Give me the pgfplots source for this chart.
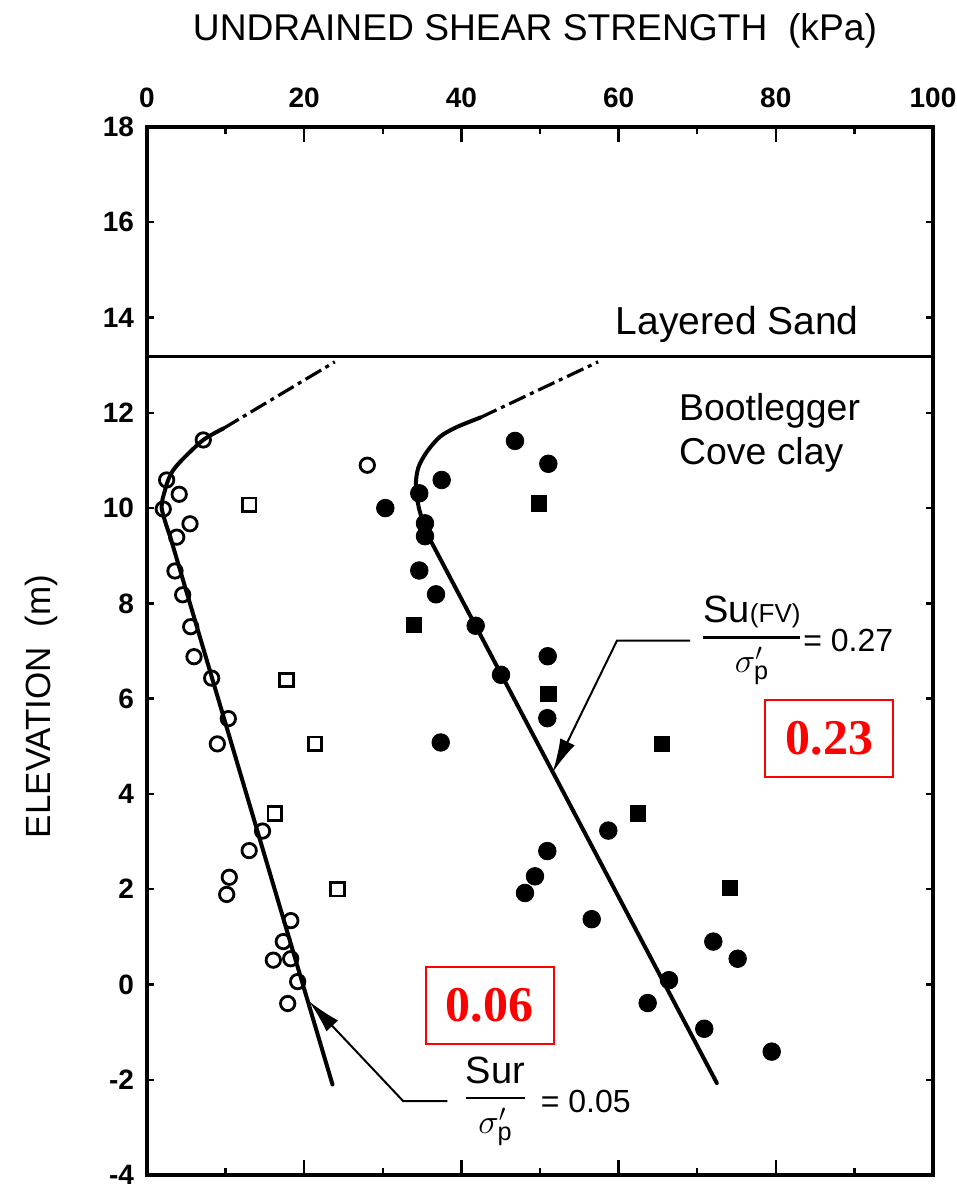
\documentclass[border=0pt]{standalone}
\usepackage{amsmath}
\usepackage{fontspec}
\setmainfont{Liberation Sans}
\newfontfamily\redfont{Liberation Serif}
\usepackage{pgfplots}
\usepackage{pgfplotstable}
\pgfplotsset{compat=1.18}
\usetikzlibrary{arrows.meta}

% open circles
\pgfplotstableread{
x y
7.16 11.43
2.50 10.59
4.10 10.29
2.07 9.98
5.47 9.67
3.78 9.39
3.56 8.68
4.54 8.18
5.56 7.51
5.98 6.88
8.23 6.43
10.35 5.58
8.95 5.05
14.70 3.22
13.00 2.81
10.47 2.25
10.14 1.89
18.30 1.34
17.34 0.90
16.07 0.51
18.28 0.54
19.17 0.06
17.90 -0.40
28.03 10.90
}\opencirc
% open squares
\pgfplotstableread{
x y
13.00 10.07
17.77 6.39
21.37 5.05
16.25 3.59
24.26 2.00
}\opensq
% filled circles
\pgfplotstableread{
x y
46.82 11.41
51.06 10.93
37.49 10.59
34.64 10.31
30.32 10.00
35.37 9.68
35.37 9.41
34.64 8.69
36.77 8.19
41.82 7.53
45.04 6.50
50.98 6.89
50.93 5.59
37.37 5.08
58.69 3.23
50.93 2.80
49.36 2.27
48.09 1.92
56.58 1.37
66.41 0.09
63.70 -0.39
72.05 0.90
75.15 0.54
70.90 -0.93
79.48 -1.41
}\fillcirc
% filled squares
\pgfplotstableread{
x y
49.87 10.10
33.97 7.54
51.06 6.10
65.48 5.05
62.50 3.59
74.17 2.02
}\fillsq

\begin{document}
\begin{tikzpicture}
\begin{axis}[
  at={(0,0)}, anchor=south west,
  scale only axis, width=393pt, height=524pt,
  xmin=0, xmax=100, ymin=-4, ymax=18,
  xtick={0,20,...,100}, minor xtick={10,30,...,90},
  ytick={-4,-2,...,18},
  xticklabel pos=upper,
  tick align=inside,
  major tick length=3.5pt,
  minor tick length=3.5pt,
  major x tick style={/pgfplots/major tick length=7.5pt},
  axis line style={line width=1.8pt},
  tick style={line width=1.2pt, black},
  /pgf/number format/assume math mode=true,
  ticklabel style={font=\fontsize{14}{14}\selectfont\bfseries},
  xticklabel style={yshift=6pt},
  yticklabel style={xshift=-3pt},
  clip=false,
]
% layer boundary
\addplot[line width=1.3pt, no marks] coordinates {(0,13.18) (100,13.18)};

% left fit line (S_ur)
\addplot[line width=2pt, no marks, line cap=round] coordinates {(23.6,-2.1) (2.95,9.4)};
\addplot[line width=2pt, no marks, smooth, line cap=round] coordinates {(2.95,9.4) (1.87,10.0) (2.3,10.38) (2.7,10.59) (3.35,10.8) (4.62,11.04) (7.16,11.43) (9.7,11.67)};
\addplot[line width=1.6pt, no marks, dash pattern=on 9pt off 2.5pt on 2pt off 2.5pt] coordinates {(9.7,11.67) (23.9,13.07)};

% right fit line (S_u(FV))
\addplot[line width=2pt, no marks, line cap=round] coordinates {(72.5,-2.07) (35.5,9.5)};
\addplot[line width=2pt, no marks, smooth, line cap=round] coordinates {(35.5,9.5) (34.6,10.0) (34.2,10.45) (34.5,10.84) (35.6,11.18) (37.3,11.5) (39.4,11.7) (42.4,11.9)};
\addplot[line width=1.6pt, no marks, dash pattern=on 9pt off 2.5pt on 2pt off 2.5pt] coordinates {(42.4,11.9) (57.4,13.07)};

% data points
\addplot[only marks, mark=o, mark size=3.6pt, mark options={line width=1.4pt, fill=white}] table {\opencirc};
\addplot[only marks, mark=square, mark size=3.4pt, mark options={line width=1.4pt, fill=white}] table {\opensq};
\addplot[only marks, mark=*, mark size=4.4pt, mark options={fill=black}] table {\fillcirc};
\addplot[only marks, mark=square*, mark size=3.8pt, mark options={fill=black}] table {\fillsq};

% leaders
\draw[line width=1pt, -{Latex[length=17pt,width=8pt]}] (axis cs:69.1,7.22) -- (axis cs:59.8,7.22) -- (axis cs:51.6,4.45);
\draw[line width=1pt, -{Latex[length=17pt,width=8pt]}] (axis cs:38.2,-2.45) -- (axis cs:32.6,-2.45) -- (axis cs:20.6,-0.35);

% fraction labels
\node at (axis cs:76.97,7.22) {\fontsize{18}{18}\selectfont$\genfrac{}{}{1.4pt}{0}{\mbox{\fontsize{19}{19}\selectfont Su{\fontsize{13}{13}\selectfont(FV)}}}{\sigma'_{\mathrm{p}}}$};
\node[anchor=west] at (axis cs:82.6,7.22) {\fontsize{16}{16}\selectfont = 0.27};
\node at (axis cs:44.34,-2.45) {\fontsize{18}{18}\selectfont$\genfrac{}{}{1.4pt}{0}{\mbox{\fontsize{19}{19}\selectfont Sur}}{\sigma'_{\mathrm{p}}}$};
\node[anchor=west] at (axis cs:49.2,-2.45) {\fontsize{16}{16}\selectfont = 0.05};

% layer labels
\node[anchor=base] at (axis cs:75.1,13.65) {\fontsize{19.5}{19.5}\selectfont Layered Sand};
\node[anchor=base west] at (axis cs:66.8,11.845) {\fontsize{18.7}{18.7}\selectfont Bootlegger};
\node[anchor=base west] at (axis cs:66.8,10.905) {\fontsize{18.7}{18.7}\selectfont Cove clay};

% red boxes
\node[draw=red, line width=1pt, minimum width=64pt, minimum height=38.5pt, inner sep=0pt, text=red] at (axis cs:43.6,-0.44) {\redfont\bfseries\fontsize{25}{25}\selectfont 0.06};
\node[draw=red, line width=1pt, minimum width=64pt, minimum height=38.5pt, inner sep=0pt, text=red] at (axis cs:86.8,5.16) {\redfont\bfseries\fontsize{25}{25}\selectfont 0.23};

% titles
\node[anchor=base] at (rel axis cs:0.4936,1.083) {\fontsize{18.6}{18.6}\selectfont UNDRAINED SHEAR STRENGTH\ \ (kPa)};
\node[anchor=base, rotate=90] at (rel axis cs:-0.1234,0.447) {\fontsize{17.5}{17.5}\selectfont ELEVATION\ \ (m)};
\end{axis}
\pgfresetboundingbox
\path[use as bounding box] (-73.5pt,-7pt) rectangle (405pt,587.5pt);
\end{tikzpicture}
\end{document}
